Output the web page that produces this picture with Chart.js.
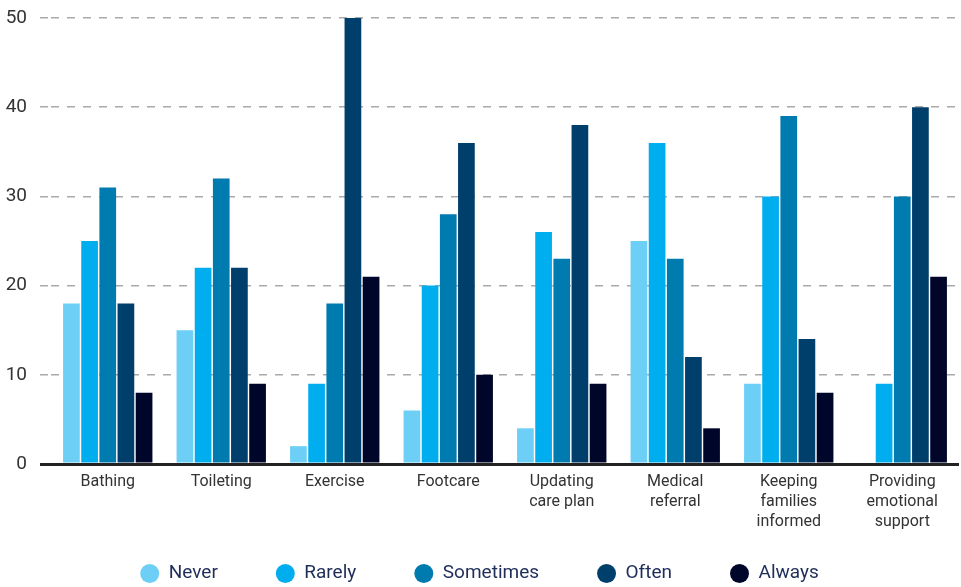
<!DOCTYPE html>
<html>
<head>
<meta charset="utf-8">
<script src="https://cdn.jsdelivr.net/npm/chart.js@4"></script>
<style>
  html, body { margin: 0; padding: 0; background: #fff; }
  #wrap { width: 961px; height: 587px; }
</style>
</head>
<body>
<div id="wrap"><canvas id="careChart"></canvas></div>
<script>
// Categories and frequency series (percent of respondents)
const categories = [
  'Bathing', 'Toileting', 'Exercise', 'Footcare',
  ['Updating', 'care plan'], ['Medical', 'referral'],
  ['Keeping', 'families', 'informed'], ['Providing', 'emotional', 'support']
];
const never     = [18, 15, 2, 6, 4, 25, 9, 0];
const rarely    = [25, 22, 9, 20, 26, 36, 30, 9];
const sometimes = [31, 32, 18, 28, 23, 23, 39, 30];
const often     = [18, 22, 50, 36, 38, 12, 14, 40];
const always    = [8, 9, 21, 10, 9, 4, 8, 21];
const yTicks    = [0, 10, 20, 30, 40, 50];

const fontFamily = "'Roboto', 'Liberation Sans', sans-serif";

function series(label, data, color) {
  return {
    label: label,
    data: data,
    backgroundColor: color,
    borderWidth: 0,
    categoryPercentage: 0.8,
    barPercentage: 0.92
  };
}

// the legend needs wide gaps between items but little height, so nudge it up after layout
const legendShift = {
  id: 'legendShift',
  afterLayout(chart) {
    const lg = chart.legend;
    if (lg) { lg.top -= 28; lg.bottom -= 28; }
  }
};

const ctx = document.getElementById('careChart').getContext('2d');
new Chart(ctx, {
  type: 'bar',
  data: {
    labels: categories,
    datasets: [
      series('Never', never, '#6dcff6'),
      series('Rarely', rarely, '#00aeef'),
      series('Sometimes', sometimes, '#007bb0'),
      series('Often', often, '#003e6b'),
      series('Always', always, '#00062a')
    ]
  },
  plugins: [legendShift],
  options: {
    responsive: true,
    maintainAspectRatio: false,
    animation: false,
    layout: { padding: { top: 18, right: 2, left: 0, bottom: -34 } },
    scales: {
      x: {
        grid: { display: false },
        border: { display: false },
        afterFit: function(scale) { scale.height = 70; },
        ticks: {
          color: '#333',
          padding: 0,
          font: { family: fontFamily, size: 16, lineHeight: 1.25 },
          maxRotation: 0,
          autoSkip: false
        }
      },
      y: {
        min: 0,
        max: 50,
        afterBuildTicks: function(scale) {
          scale.ticks = yTicks.map(v => ({ value: v }));
        },
        afterFit: function(scale) {
          scale.width = 51;
          scale.paddingTop = 0;
          scale.paddingBottom = 0;
        },
        border: {
          display: false,
          dash: ctx => ctx.tick && ctx.tick.value === 0 ? [] : [8, 8]
        },
        grid: {
          drawTicks: true,
          tickLength: 11,
          color: ctx => ctx.tick.value === 0 ? '#222' : '#aaa',
          tickColor: ctx => ctx.tick.value === 0 ? '#222' : '#aaa',
          lineWidth: ctx => ctx.tick.value === 0 ? 3 : 1.5,
          tickWidth: ctx => ctx.tick.value === 0 ? 3 : 1.5,
          tickBorderDash: ctx => ctx.tick.value === 0 ? [] : [8, 8]
        },
        ticks: {
          color: '#333',
          padding: 13,
          font: { family: fontFamily, size: 19 }
        }
      }
    },
    plugins: {
      legend: {
        position: 'bottom',
        labels: {
          usePointStyle: true,
          pointStyle: 'circle',
          boxWidth: 19,
          boxHeight: 13.4,
          padding: 58,
          color: '#1f2d5a',
          font: { family: fontFamily, size: 19 }
        }
      },
      tooltip: { enabled: false }
    }
  }
});
</script>
</body>
</html>
